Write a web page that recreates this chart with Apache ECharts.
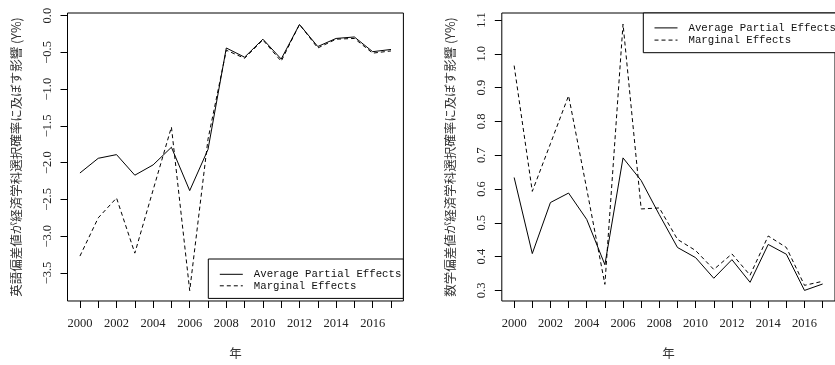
<!DOCTYPE html>
<html>
<head>
<meta charset="utf-8">
<script src="https://cdn.jsdelivr.net/npm/echarts@6/dist/echarts.min.js"></script>
<style>
html,body{margin:0;padding:0;background:#fff;}
#chart{width:835px;height:365px;}
</style>
</head>
<body>
<div id="chart"></div>
<script>
// ---- data ----
var years = [2000,2001,2002,2003,2004,2005,2006,2007,2008,2009,2010,2011,2012,2013,2014,2015,2016,2017];
var xLabelYears = [2000,2002,2004,2006,2008,2010,2012,2014,2016];
var seriesNames = ['Average Partial Effects', 'Marginal Effects'];

// English deviation score panel
var engAPE = [-2.14,-1.94,-1.89,-2.17,-2.03,-1.79,-2.38,-1.82,-0.44,-0.565,-0.32,-0.59,-0.12,-0.42,-0.31,-0.29,-0.49,-0.46];
var engME  = [-3.27,-2.75,-2.48,-3.23,-2.37,-1.515,-3.74,-1.68,-0.47,-0.58,-0.33,-0.62,-0.12,-0.44,-0.32,-0.31,-0.51,-0.48];
var engTicks = [-3.5,-3.0,-2.5,-2.0,-1.5,-1.0,-0.5,0.0];

// Math deviation score panel
var mathAPE = [0.634,0.409,0.56,0.588,0.51,0.376,0.692,0.625,0.524,0.427,0.397,0.336,0.391,0.324,0.436,0.407,0.300,0.319];
var mathME  = [0.965,0.593,0.734,0.876,0.60,0.318,1.088,0.541,0.544,0.451,0.418,0.362,0.408,0.345,0.461,0.427,0.315,0.327];
var mathTicks = [0.3,0.4,0.5,0.6,0.7,0.8,0.9,1.0,1.1];

var engTitle = '英語偏差値が経済学科選択確率に及ぼす影響 (Y%)';
var mathTitle = '数学偏差値が経済学科選択確率に及ぼす影響 (Y%)';
var xTitle = '年';

function pairs(ys){ return years.map(function(y,i){ return [y, ys[i]]; }); }
function fmt(v){ return v.toFixed(1).replace('-', '\u2212'); }

var tickFont = {fontFamily:'Liberation Serif', fontSize:12.5, color:'#222'};
var cjkFont = {fontFamily:'Noto Sans CJK JP', fontSize:12.5, color:'#333'};

function xAxis(gi){
  return {
    type:'value', gridIndex:gi, min:1999.32, max:2017.68, position:'bottom',
    name:xTitle, nameLocation:'middle', nameGap:46.5, nameTextStyle:cjkFont,
    axisLine:{show:false, onZero:false}, splitLine:{show:false},
    axisTick:{show:true, inside:false, length:7, customValues:years, lineStyle:{color:'#000', width:1}},
    axisLabel:Object.assign({margin:16, customValues:xLabelYears, formatter:function(v){return String(v);}}, tickFont)
  };
}
function yAxis(gi, min, max, ticks, title){
  return {
    type:'value', gridIndex:gi, min:min, max:max, position:'left',
    name:title, nameLocation:'middle', nameGap:45, nameRotate:90, nameTextStyle:cjkFont,
    axisLine:{show:false, onZero:false}, splitLine:{show:false},
    axisTick:{show:true, inside:false, length:7, customValues:ticks, lineStyle:{color:'#000', width:1}},
    axisLabel:Object.assign({margin:13.5, rotate:90, customValues:ticks, formatter:fmt}, tickFont)
  };
}
function line(name, gi, ys, dashed){
  return {
    type:'line', name:name, xAxisIndex:gi, yAxisIndex:gi, data:pairs(ys),
    symbol:'none', silent:true, animation:false,
    lineStyle:{color:'#000', width:1, type: dashed ? [4,3] : 'solid'},
    itemStyle:{color:'#000'}
  };
}
var legendText = {fontFamily:'Liberation Mono', fontSize:10.7, color:'#111', padding:[0,0,0,6]};
function legend(left, top, pad, gap){
  return {data:seriesNames, orient:'vertical', left:left, top:top, itemWidth:23, itemHeight:14, itemGap:gap,
    padding:pad, borderColor:'#000', borderWidth:1, borderRadius:0, backgroundColor:'#fff',
    selectedMode:false, textStyle:legendText,
    itemStyle:{opacity:0}, lineStyle:{opacity:1, color:'#000', width:1}};
}

var option = {
  backgroundColor:'#fff',
  animation:false,
  grid:[
    {left:67.5, top:13, width:335.9, height:291, show:true, borderColor:'#000', borderWidth:1, backgroundColor:'transparent'},
    {left:501.8, top:13, width:336.7, height:291, show:true, borderColor:'#000', borderWidth:1, backgroundColor:'transparent'}
  ],
  xAxis:[xAxis(0), xAxis(1)],
  yAxis:[yAxis(0, -3.881, 0.036, engTicks, engTitle), yAxis(1, 0.2687, 1.1206, mathTicks, mathTitle)],
  legend:[
    legend(208.3, 259, [9.7,2,7,11], 0.3),
    legend(643.3, 13, [9.3,2,7,10.7], 1)
  ],
  series:[
    line(seriesNames[0], 0, engAPE, false),
    line(seriesNames[1], 0, engME, true),
    line(seriesNames[0], 1, mathAPE, false),
    line(seriesNames[1], 1, mathME, true)
  ]
};
var chart = echarts.init(document.getElementById('chart'), null, {renderer:'canvas'});
chart.setOption(option);
</script>
</body>
</html>
